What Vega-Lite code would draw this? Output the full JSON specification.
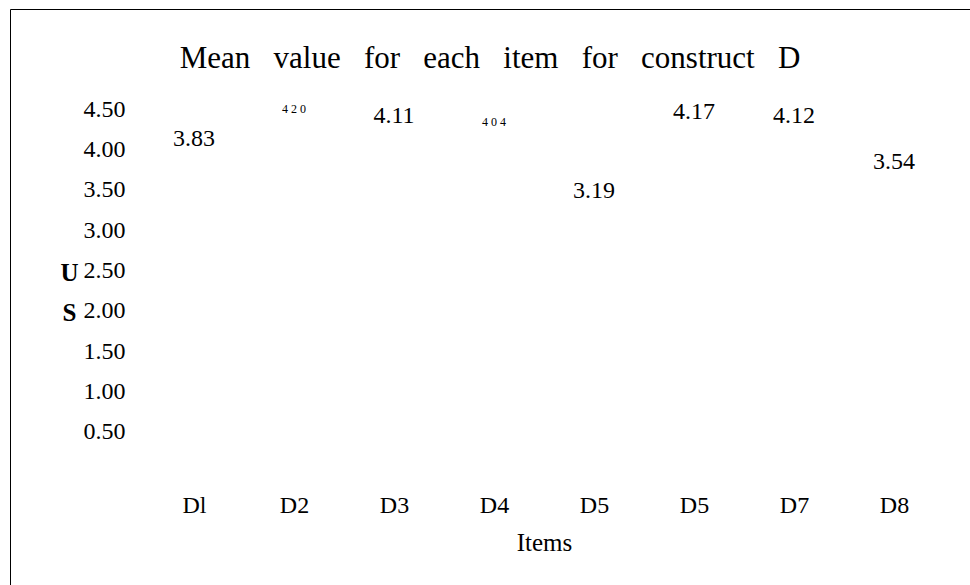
{
  "$schema": "https://vega.github.io/schema/vega-lite/v6.json",
  "autosize": "none",
  "padding": {"left": 10, "top": 9, "right": 0, "bottom": 0},
  "width": 960,
  "height": 576,
  "config": {
    "view": {"stroke": "black", "strokeWidth": 1},
    "font": "Liberation Serif"
  },
  "title": {
    "text": "Mean \u00a0\u00a0value \u00a0\u00a0for \u00a0\u00a0each \u00a0\u00a0item \u00a0\u00a0for \u00a0\u00a0construct \u00a0\u00a0D",
    "font": "Liberation Serif",
    "fontSize": 31,
    "fontWeight": "normal",
    "color": "black",
    "anchor": "middle",
    "baseline": "alphabetic",
    "offset": -90
  },
  "data": {
    "values": [
      {"item": "D1", "mean": 3.83, "label": "3.83"},
      {"item": "D2", "mean": 4.20, "label": "4 2 0"},
      {"item": "D3", "mean": 4.11, "label": "4.11"},
      {"item": "D4", "mean": 4.04, "label": "4 0 4"},
      {"item": "D5", "mean": 3.19, "label": "3.19"},
      {"item": "D6", "mean": 4.17, "label": "4.17"},
      {"item": "D7", "mean": 4.12, "label": "4.12"},
      {"item": "D8", "mean": 3.54, "label": "3.54"}
    ]
  },
  "mark": {"type": "text", "font": "Liberation Serif", "baseline": "middle", "align": "center", "dy": -24, "fill": "black", "color": "black"},
  "encoding": {
    "x": {
      "field": "item",
      "type": "nominal",
      "sort": null,
      "scale": {"range": [134, 934], "paddingInner": 0, "paddingOuter": 0},
      "axis": {
        "title": "Items",
        "orient": "bottom",
        "offset": -113,
        "domain": false,
        "ticks": false,
        "tickSize": 0,
        "grid": false,
        "labelAngle": 0,
        "labelFont": "Liberation Serif",
        "labelFontSize": 24,
        "labelColor": "black",
        "labelBaseline": "alphabetic",
        "labelPadding": 40,
        "labelExpr": "datum.value == 'D1' ? 'Dl' : (datum.value == 'D6' ? 'D5' : datum.value)",
        "titleFont": "Liberation Serif",
        "titleFontSize": 25,
        "titleFontWeight": "normal",
        "titleColor": "black",
        "titleBaseline": "alphabetic",
        "titleY": 78
      }
    },
    "y": {
      "field": "mean",
      "type": "quantitative",
      "scale": {"domain": [0, 4.5], "range": [463, 100], "nice": false, "zero": true},
      "axis": {
        "title": ["U", "S"],
        "orient": "left",
        "offset": -115,
        "values": [0.5, 1, 1.5, 2, 2.5, 3, 3.5, 4, 4.5],
        "format": ".2f",
        "domain": false,
        "ticks": false,
        "tickSize": 0,
        "grid": false,
        "labelFont": "Liberation Serif",
        "labelFontSize": 24,
        "labelColor": "black",
        "labelPadding": 0,
        "labelBaseline": "middle",
        "titleFont": "Liberation Serif",
        "titleFontSize": 25,
        "titleFontWeight": "bold",
        "titleColor": "black",
        "titleAngle": 0,
        "titleAlign": "center",
        "titleBaseline": "alphabetic",
        "titleLineHeight": 40,
        "titleX": -56,
        "titleY": 271
      }
    },
    "text": {"field": "label"},
    "size": {
      "condition": {"test": "datum.item == 'D2' || datum.item == 'D4'", "value": 12},
      "value": 24
    }
  }
}
